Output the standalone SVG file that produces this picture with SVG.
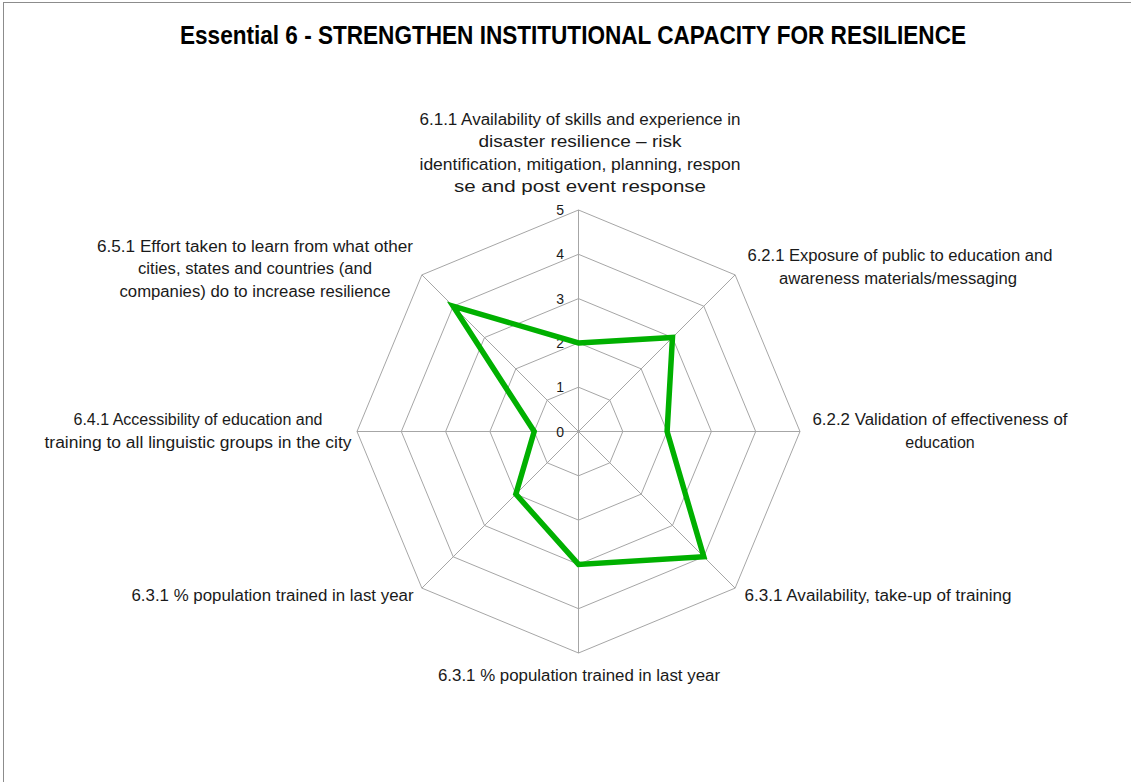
<svg xmlns="http://www.w3.org/2000/svg" width="1131" height="782" viewBox="0 0 1131 782">
<style>
.lbl{font-family:"Liberation Sans",Arial,sans-serif;font-size:16px;fill:#1a1a1a;text-anchor:middle}
.tick{font-family:"Liberation Sans",Arial,sans-serif;font-size:14px;fill:#1a1a1a;text-anchor:end}
.title{font-family:"Liberation Sans",Arial,sans-serif;font-size:26px;font-weight:bold;fill:#000;text-anchor:middle}
.grid{fill:none;stroke:#a6a6a6;stroke-width:1}
.series{fill:none;stroke:#00b000;stroke-width:5.5;stroke-linejoin:miter}
</style>
<rect x="0" y="0" width="1131" height="782" fill="#fff"/>
<rect x="3.5" y="2.5" width="1140" height="800" fill="none" stroke="#8c8c8c" stroke-width="1"/>
<text class="title" x="573" y="44" textLength="786" lengthAdjust="spacingAndGlyphs">Essential 6 - STRENGTHEN INSTITUTIONAL CAPACITY FOR RESILIENCE</text>

<g id="grid">
<polygon class="grid" points="578.5,387.2 609.82,400.18 622.8,431.5 609.82,462.82 578.5,475.8 547.18,462.82 534.2,431.5 547.18,400.18"/>
<polygon class="grid" points="578.5,342.9 641.15,368.85 667.1,431.5 641.15,494.15 578.5,520.1 515.85,494.15 489.9,431.5 515.85,368.85"/>
<polygon class="grid" points="578.5,298.6 672.47,337.53 711.4,431.5 672.47,525.47 578.5,564.4 484.53,525.47 445.6,431.5 484.53,337.53"/>
<polygon class="grid" points="578.5,254.3 703.8,306.2 755.7,431.5 703.8,556.8 578.5,608.7 453.2,556.8 401.3,431.5 453.2,306.2"/>
<polygon class="grid" points="578.5,210 735.12,274.88 800,431.5 735.12,588.12 578.5,653 421.88,588.12 357,431.5 421.88,274.88"/>
<path class="grid" d="M578.5,431.5V210M578.5,431.5L735.12,274.88M578.5,431.5H800M578.5,431.5L735.12,588.12M578.5,431.5V653M578.5,431.5L421.88,588.12M578.5,431.5H357M578.5,431.5L421.88,274.88"/>
</g>

<g id="ticks">
<text class="tick" x="564" y="436.5">0</text>
<text class="tick" x="564" y="392.2">1</text>
<text class="tick" x="564" y="347.9">2</text>
<text class="tick" x="564" y="303.6">3</text>
<text class="tick" x="564" y="259.3">4</text>
<text class="tick" x="564" y="215">5</text>
</g>

<g id="connectors">
<polygon class="series" points="578.5,342.9 672.47,337.53 667.1,431.5 703.8,556.8 578.5,564.4 515.85,494.15 534.2,431.5 453.2,306.2"/>
</g>

<g id="n611">
<text class="lbl" x="580" y="124.5" textLength="321" lengthAdjust="spacingAndGlyphs">6.1.1 Availability of skills and experience in</text>
<text class="lbl" x="580" y="147" textLength="203" lengthAdjust="spacingAndGlyphs">disaster resilience – risk</text>
<text class="lbl" x="580" y="169.5" textLength="321" lengthAdjust="spacingAndGlyphs">identification, mitigation, planning, respon</text>
<text class="lbl" x="580" y="192" textLength="252" lengthAdjust="spacingAndGlyphs">se and post event response</text>
</g>
<g id="n621">
<text class="lbl" x="900" y="261" textLength="305" lengthAdjust="spacingAndGlyphs">6.2.1 Exposure of public to education and</text>
<text class="lbl" x="898" y="283.5" textLength="238" lengthAdjust="spacingAndGlyphs">awareness materials/messaging</text>
</g>
<g id="n622">
<text class="lbl" x="940" y="425" textLength="255" lengthAdjust="spacingAndGlyphs">6.2.2 Validation of effectiveness of</text>
<text class="lbl" x="940" y="447.5">education</text>
</g>
<g id="n631a">
<text class="lbl" x="878" y="601" textLength="267" lengthAdjust="spacingAndGlyphs">6.3.1 Availability, take-up of training</text>
</g>
<g id="n631b">
<text class="lbl" x="579" y="681" textLength="282" lengthAdjust="spacingAndGlyphs">6.3.1 % population trained in last year</text>
</g>
<g id="n631c">
<text class="lbl" x="272.5" y="601" textLength="282" lengthAdjust="spacingAndGlyphs">6.3.1 % population trained in last year</text>
</g>
<g id="n641">
<text class="lbl" x="198" y="425" textLength="249" lengthAdjust="spacingAndGlyphs">6.4.1 Accessibility of education and</text>
<text class="lbl" x="198" y="447.5" textLength="307" lengthAdjust="spacingAndGlyphs">training to all linguistic groups in the city</text>
</g>
<g id="n651">
<text class="lbl" x="255" y="251.5" textLength="316" lengthAdjust="spacingAndGlyphs">6.5.1 Effort taken to learn from what other</text>
<text class="lbl" x="255" y="274" textLength="234" lengthAdjust="spacingAndGlyphs">cities, states and countries (and</text>
<text class="lbl" x="255" y="296.5" textLength="271" lengthAdjust="spacingAndGlyphs">companies) do to increase resilience</text>
</g>
</svg>
